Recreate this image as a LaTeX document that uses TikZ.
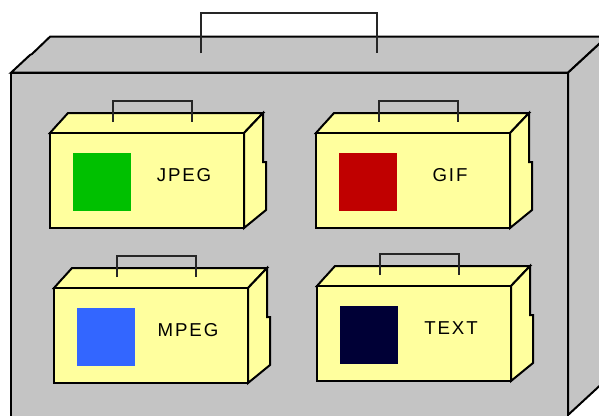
\documentclass[tikz,border=0pt]{standalone}
\usepackage{fontspec}
\setmainfont{Liberation Sans}
\newfontfamily\captionfont[LetterSpace=10]{Liberation Sans}
\definecolor{crategray}{HTML}{C4C4C4}
\definecolor{caseyellow}{HTML}{FFFF9E}
\definecolor{gripgray}{HTML}{262626}
\definecolor{swgreen}{HTML}{00C000}
\definecolor{swred}{HTML}{C00000}
\definecolor{swblue}{HTML}{3366FF}
\definecolor{swnavy}{HTML}{000036}

% One small briefcase: #1 name, #2/#3 front top-left corner, #4 swatch colour, #5 caption
\newcommand\briefcase[5]{%
  \begin{scope}[shift={(#2,#3)}]
    \filldraw[caseface] (0,0) -- (8,-9) -- (9,-10) -- (18,-20) -- (213,-20) -- (194,0) -- cycle;
    \filldraw[caseface] (194,0) -- (213,-20) -- (213,29) -- (216,29) -- (216,77) -- (194,95) -- cycle;
    \filldraw[caseface] (0,0) rectangle (194,95);
    \draw[grip] (63,-11) -- (63,-32) -- (142,-32) -- (142,-11);
    \node[swatch,fill=#4] (#1-swatch) at (51.5,49) {};
    \node[caption] (#1-label) at (134,42) {#5};
  \end{scope}}

\begin{document}
\begin{tikzpicture}[x=0.75pt,y=-0.75pt,
  outline/.style={draw=black,line width=1.5pt,line join=miter},
  caseface/.style={outline,fill=caseyellow},
  crate/.style={outline,fill=crategray},
  grip/.style={draw=gripgray,line width=1.5pt},
  swatch/.style={draw=none,inner sep=0pt,minimum size=43.5pt},
  caption/.style={font=\captionfont\fontsize{14}{16}\selectfont,inner sep=0pt}]
  \useasboundingbox (0,0) rectangle (599,415);
  \clip (0,0) rectangle (599,415);
  \fill[white] (0,0) rectangle (599,415);

  % large grey package
  \filldraw[crate] (11,72.7) -- (30,55) -- (32,54) -- (50,36.7) -- (607,36.7) -- (568,72.7) -- cycle;
  \filldraw[crate] (568,72.7) -- (607,36.7) -- (607,379) -- (568,415) -- cycle;
  \filldraw[crate] (11,72.7) rectangle (568,418);
  \draw[grip] (200.7,53.3) -- (200.7,12.7) -- (377,12.7) -- (377,53.3);

  % contents
  \briefcase{jpeg}{50}{133}{swgreen}{JPEG}
  \briefcase{gif}{316}{133}{swred}{GIF}
  \briefcase{mpeg}{54}{288}{swblue}{MPEG}
  \briefcase{text}{317}{286}{swnavy}{TEXT}
\end{tikzpicture}
\end{document}
